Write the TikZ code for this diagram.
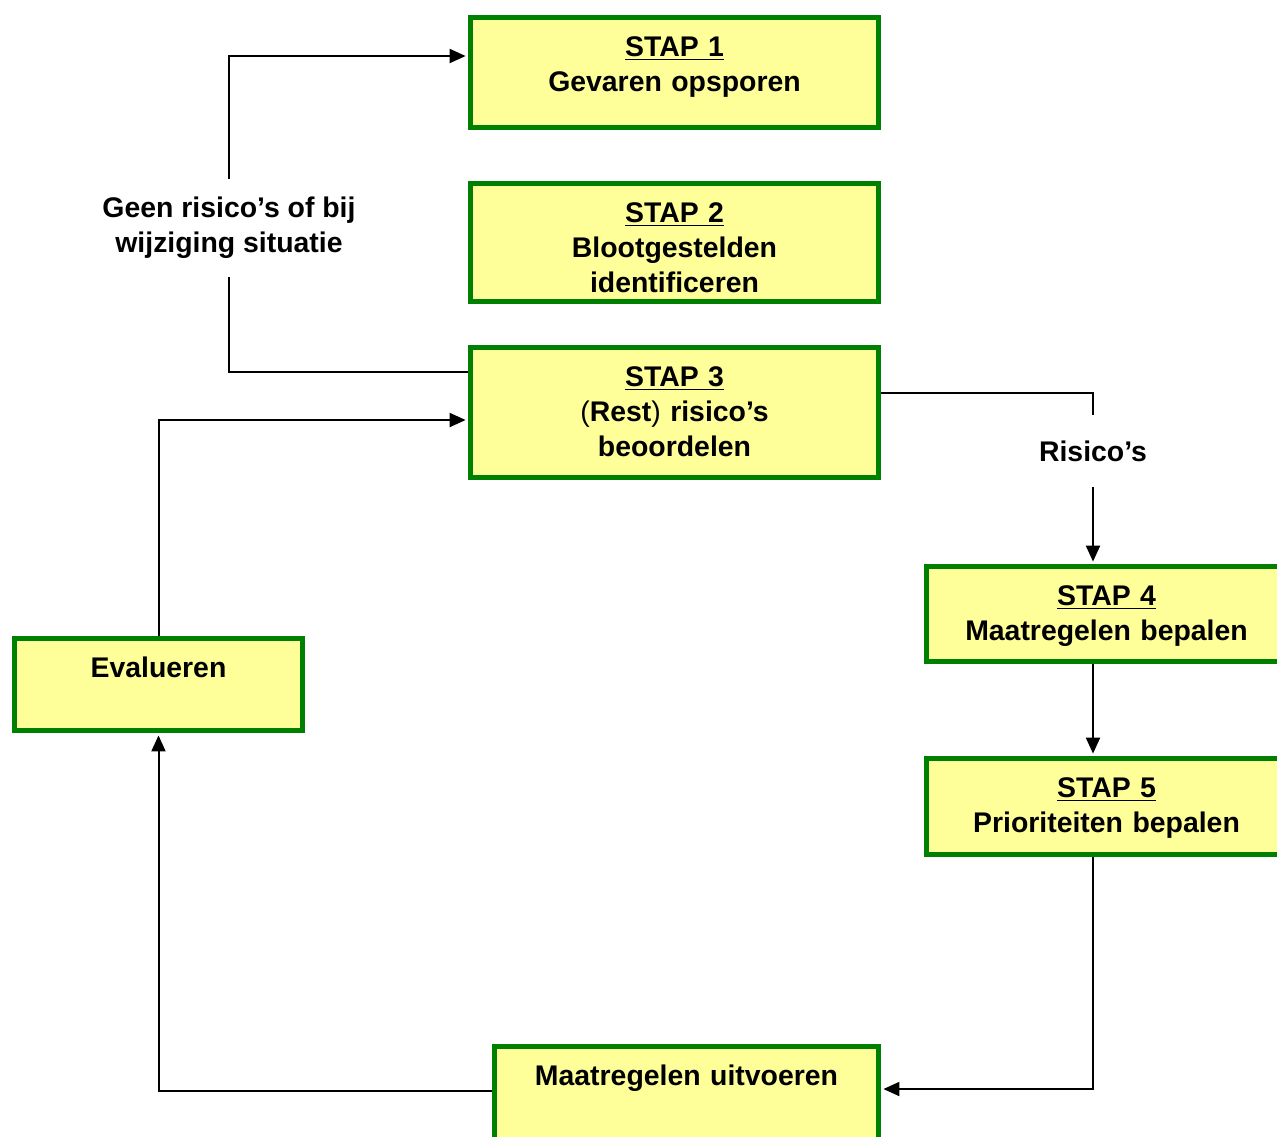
\documentclass[tikz,border=0pt]{standalone}
\usepackage{fontspec}
\setmainfont{Liberation Sans}
\usepackage{tikz}
\usetikzlibrary{arrows.meta,positioning}
\definecolor{stapgreen}{RGB}{0,128,0}
\definecolor{stapyellow}{RGB}{255,255,153}

\begin{document}
\begin{tikzpicture}[
  x=0.5pt, y=-0.5pt,
  font=\fontsize{14.2}{17.5}\selectfont\bfseries,
  >={Triangle[length=8pt, width=7pt]},
  stapbox/.style={rectangle, draw=stapgreen, fill=stapyellow, line width=2.5pt,
                  inner sep=0pt, anchor=north west, align=center, text height=19.5pt},
  lbl/.style={inner sep=0pt, align=center},
  tr/.style={line width=1pt, draw=black},
  trarr/.style={tr, ->, shorten >=1.2pt},
]
\clip (0,0) rectangle (1277,1136);

\node[stapbox, text width=204pt, text depth=35.5pt] (s1) at (468,15)
  {\underline{STAP 1}\\Gevaren opsporen};
\node[stapbox, text width=204pt, text depth=39.5pt] (s2) at (468,181)
  {\underline{STAP 2}\\Blootgestelden\\identificeren};
\node[stapbox, text width=204pt, text depth=45.5pt] (s3) at (468,345)
  {\underline{STAP 3}\\{\mdseries(}Rest{\mdseries)} risico’s\\beoordelen};
\node[stapbox, text width=180pt, text depth=28pt] (s4) at (924,564)
  {\underline{STAP 4}\\Maatregelen bepalen};
\node[stapbox, text width=180pt, text depth=28.5pt] (s5) at (924,756)
  {\underline{STAP 5}\\Prioriteiten bepalen};
\node[stapbox, text width=144pt, text depth=26.5pt] (eval) at (12,636)
  {Evalueren};
\node[stapbox, text width=192pt, text depth=40.5pt] (uitv) at (492,1044)
  {Maatregelen uitvoeren};

\node[lbl, minimum height=49pt] (geen) at (229,228) {Geen risico’s of bij\\wijziging situatie};
\node[lbl, minimum height=36pt] (risico) at (1093,451) {Risico’s};

\draw[tr] ([yshift=-13.5pt]s3.north west) -| (geen.south);
\draw[trarr] (geen.north) |- ([yshift=-20.5pt]s1.north west);
\draw[trarr] (eval.north) |- ([yshift=-37.5pt]s3.north west);
\draw[tr] ([yshift=-24pt]s3.north east) -| (risico.north);
\draw[trarr] (risico.south) -- (risico.south |- s4.north);
\draw[trarr] (s4.south -| risico) -- (s5.north -| risico);
\draw[trarr] (s5.south -| risico) |- ([yshift=-22.5pt]uitv.north east);
\draw[trarr] ([yshift=-23.5pt]uitv.north west) -| (eval.south);

\end{tikzpicture}
\end{document}
